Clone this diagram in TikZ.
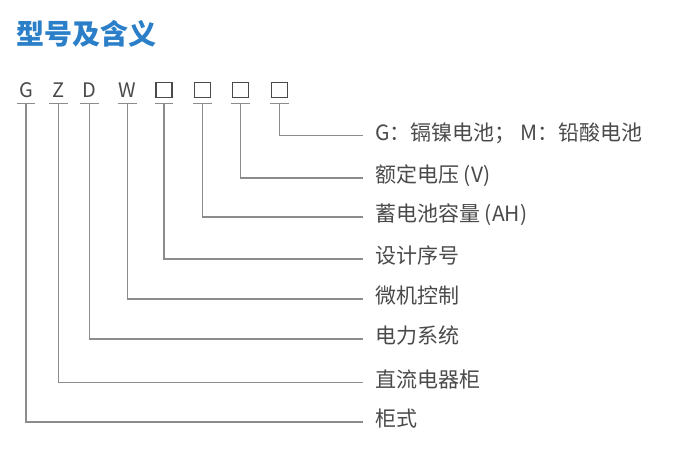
\documentclass[tikz,border=0pt]{standalone}
\usepackage{fontspec}
\setmainfont{Noto Sans CJK SC}
\definecolor{titleblue}{HTML}{2A7FC8}
\definecolor{txtgray}{HTML}{4A4A4A}
\definecolor{linegray}{HTML}{8C8C8C}
\begin{document}
\begin{tikzpicture}[x=1pt,y=-1pt,
  sym/.style={inner sep=0pt, minimum width=18pt, minimum height=27pt, text=txtgray,
    font=\fontsize{20pt}{20pt}\selectfont},
  boxsq/.style={draw=txtgray, line width=1.1pt, minimum width=16pt, minimum height=15pt, inner sep=0pt},
  uline/.style={draw=linegray, line width=1.4pt},
  conn/.style={draw=linegray, line width=1.3pt},
  lab/.style={anchor=west, inner ysep=0pt, inner xsep=12pt, text=txtgray,
    text height=1em, text depth=0.04em,
    font=\fontsize{21pt}{21pt}\selectfont}]
\useasboundingbox (0,0) rectangle (700,448);
\node[anchor=west, inner sep=0pt, text=titleblue, font=\fontsize{28pt}{28pt}\selectfont\bfseries] (title) at (16,34) {型号及含义};
% symbols
\node[sym] (g) at (26,90) {G};
\node[sym] (z) at (58.5,90) {Z};
\node[sym] (d) at (89.5,90) {D};
\node[sym] (w) at (127.5,90) {W};
\node[sym, label={[boxsq]center:{}}] (b1) at (164,90) {};
\node[sym, label={[boxsq]center:{}}] (b2) at (202.5,90) {};
\node[sym, label={[boxsq]center:{}}] (b3) at (240.5,90) {};
\node[sym, label={[boxsq]center:{}}] (b4) at (279.5,90) {};
\foreach \n in {g,z,d,w,b1,b2,b3,b4}{
  \draw[uline] (\n.south west) -- (\n.south east);
}
% labels
\node[lab] (l1) at (363,135.5) {G：镉镍电池； M：铅酸电池};
\node[lab] (l2) at (363,178) {额定电压 (V)};
\node[lab] (l3) at (363,217) {蓄电池容量 (AH)};
\node[lab] (l4) at (363,259) {设计序号};
\node[lab] (l5) at (363,299) {微机控制};
\node[lab] (l6) at (363,339) {电力系统};
\node[lab] (l7) at (363,382.5) {直流电器柜};
\node[lab] (l8) at (363,422) {柜式};
% connectors
\draw[conn] (b4.south) |- (l1.west);
\draw[conn] (b3.south) |- (l2.west);
\draw[conn] (b2.south) |- (l3.west);
\draw[conn] (b1.south) |- (l4.west);
\draw[conn] (w.south) |- (l5.west);
\draw[conn] (d.south) |- (l6.west);
\draw[conn] (z.south) |- (l7.west);
\draw[conn] (g.south) |- (l8.west);
\end{tikzpicture}
\end{document}
